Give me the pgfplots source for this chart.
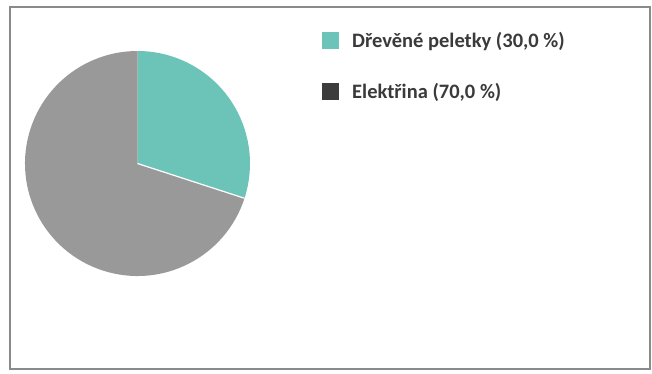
\documentclass[border=0pt]{standalone}
\usepackage{pgfplots}
\pgfplotsset{compat=1.18}
\usepackage{pgfplotstable}
\usepackage{fontspec}
\setmainfont{Carlito}

\definecolor{pellet}{HTML}{6CC4B8}
\definecolor{power}{HTML}{999999}
\definecolor{powerkey}{HTML}{3C3C3C}
\definecolor{labeltext}{HTML}{3A3A3A}
\definecolor{frame}{HTML}{8A8A8A}

% share of each heating source, in percent
\pgfplotstableread{
share
30.0
70.0
}\heating

\begin{document}
\begin{tikzpicture}
\begin{axis}[
  width=652pt, height=373pt, scale only axis,
  xmin=0, xmax=652, ymin=0, ymax=373, y dir=reverse,
  hide axis, clip=false,
]
  \pgfplotstablegetelem{0}{share}\of\heating
  \pgfmathsetmacro{\shareA}{\pgfplotsretval}
  \pgfplotstablegetelem{1}{share}\of\heating
  \pgfmathsetmacro{\shareB}{\pgfplotsretval}
  % wedges run clockwise from twelve o'clock
  \pgfmathsetmacro{\cut}{90-3.6*\shareA}
  \pgfmathsetmacro{\back}{\cut-3.6*\shareB}

  \path (axis cs:0,0) rectangle (axis cs:652,373);
  \draw[frame, line width=1.3pt] (axis cs:10,7) rectangle (axis cs:650,369);

  \fill[pellet] (axis cs:137.5,163.5) -- ++(90:112.5pt)
      arc[start angle=90, end angle=\cut, radius=112.5pt] -- cycle;
  \fill[power] (axis cs:137.5,163.5) -- ++(\cut:112.5pt)
      arc[start angle=\cut, end angle=\back, radius=112.5pt] -- cycle;
  \draw[white, line width=1.2pt] (axis cs:137.5,163.5) -- ++(\cut:112.5pt);

  % legend
  \fill[pellet] (axis cs:322,32) rectangle (axis cs:339,49);
  \fill[powerkey] (axis cs:322,83) rectangle (axis cs:339,100);
  \node[anchor=base west, inner sep=0pt, text=labeltext, font=\fontsize{20.5}{24}\selectfont\bfseries]
    at (axis cs:352,47) {Dřevěné peletky (30,0 \%)};
  \node[anchor=base west, inner sep=0pt, text=labeltext, font=\fontsize{20.5}{24}\selectfont\bfseries]
    at (axis cs:352,98) {Elektřina (70,0 \%)};
\end{axis}
\end{tikzpicture}
\end{document}
